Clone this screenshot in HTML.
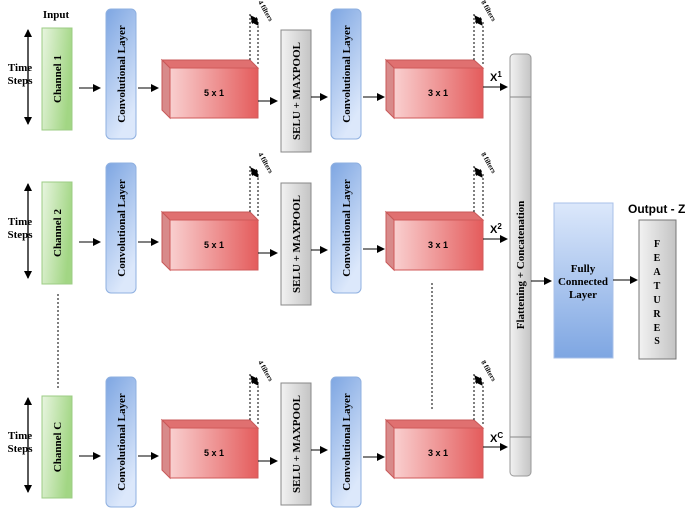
<!DOCTYPE html>
<html><head><meta charset="utf-8"><style>
html,body{margin:0;padding:0;background:#fff;}
svg{display:block;}
.s{font-family:"Liberation Serif",serif;font-weight:bold;}
.a{font-family:"Liberation Sans",sans-serif;font-weight:bold;}
</style></head><body>
<svg width="685" height="509" viewBox="0 0 685 509" xmlns="http://www.w3.org/2000/svg">
<defs>
<linearGradient id="g" x1="0" y1="0" x2="1" y2="0.3"><stop offset="0" stop-color="#e8f5e0"/><stop offset="1" stop-color="#a2d684"/></linearGradient>
<linearGradient id="b" x1="0" y1="0" x2="0.4" y2="1"><stop offset="0" stop-color="#7ea6e2"/><stop offset="1" stop-color="#dce8fb"/></linearGradient>
<linearGradient id="fc" x1="0" y1="0" x2="0" y2="1"><stop offset="0" stop-color="#dce8fb"/><stop offset="1" stop-color="#7ea6e2"/></linearGradient>
<linearGradient id="r" x1="0" y1="0" x2="1" y2="0"><stop offset="0" stop-color="#f9cfcf"/><stop offset="1" stop-color="#e45c5c"/></linearGradient>
<linearGradient id="gr" x1="0" y1="0" x2="1" y2="0"><stop offset="0" stop-color="#f2f2f2"/><stop offset="1" stop-color="#c4c4c4"/></linearGradient>
<marker id="m" markerWidth="8" markerHeight="8" refX="7" refY="4" orient="auto" markerUnits="userSpaceOnUse"><path d="M0,0 L8,4 L0,8 z" fill="#000"/></marker>
<marker id="ms" markerWidth="8" markerHeight="8" refX="1" refY="4" orient="auto" markerUnits="userSpaceOnUse"><path d="M8,0 L0,4 L8,8 z" fill="#000"/></marker>
<g id="L">
 <line x1="28" y1="30" x2="28" y2="124" stroke="#000" stroke-width="1.3" marker-start="url(#ms)" marker-end="url(#m)"/>
 <text class="s" font-size="11" x="20" y="71" text-anchor="middle">Time</text>
 <text class="s" font-size="11" x="20" y="84" text-anchor="middle">Steps</text>
 <rect x="42" y="28" width="30" height="102" fill="url(#g)" stroke="#9ccc84"/>
 <line x1="79" y1="88" x2="100" y2="88" stroke="#000" marker-end="url(#m)"/>
 <rect x="106" y="9" width="30" height="130" rx="5" fill="url(#b)" stroke="#8fb0e0"/>
 <text class="s" font-size="11" transform="translate(125,74) rotate(-90)" text-anchor="middle">Convolutional Layer</text>
 <line x1="138" y1="88" x2="158" y2="88" stroke="#000" marker-end="url(#m)"/>
 <rect x="331" y="9" width="30" height="130" rx="5" fill="url(#b)" stroke="#8fb0e0"/>
 <text class="s" font-size="11" transform="translate(350,74) rotate(-90)" text-anchor="middle">Convolutional Layer</text>
</g>
<g id="B">
 <path d="M162,60 L250,60 L258,68 L170,68 Z" fill="#e07070" stroke="#c85858"/>
 <path d="M162,60 L170,68 L170,118 L162,110 Z" fill="#d88a8a" stroke="#c85858"/>
 <rect x="170" y="68" width="88" height="50" fill="url(#r)" stroke="#d05a5a"/>
 <text class="a" font-size="9" x="214" y="96" text-anchor="middle">5 x 1</text>
 <line x1="250" y1="60" x2="250" y2="14" stroke="#000" stroke-dasharray="2,2"/>
 <line x1="258" y1="64" x2="258" y2="22" stroke="#000" stroke-dasharray="2,2"/>
 <line x1="251" y1="16" x2="258" y2="25" stroke="#000" marker-start="url(#ms)" marker-end="url(#m)"/>
 <text class="s" font-size="7" transform="translate(258,2) rotate(60)">4 filters</text>
 <line x1="258" y1="101" x2="277" y2="101" stroke="#000" marker-end="url(#m)"/>
 <line x1="363" y1="97" x2="384" y2="97" stroke="#000" marker-end="url(#m)"/>
 <path d="M386,60 L474,60 L483,68 L394,68 Z" fill="#e07070" stroke="#c85858"/>
 <path d="M386,60 L394,68 L394,118 L386,110 Z" fill="#d88a8a" stroke="#c85858"/>
 <rect x="394" y="68" width="89" height="50" fill="url(#r)" stroke="#d05a5a"/>
 <text class="a" font-size="9" x="438" y="96" text-anchor="middle">3 x 1</text>
 <line x1="474" y1="60" x2="474" y2="14" stroke="#000" stroke-dasharray="2,2"/>
 <line x1="483" y1="64" x2="483" y2="22" stroke="#000" stroke-dasharray="2,2"/>
 <line x1="475" y1="16" x2="482" y2="25" stroke="#000" marker-start="url(#ms)" marker-end="url(#m)"/>
 <text class="s" font-size="7" transform="translate(481,2) rotate(60)">8 filters</text>
 <line x1="483" y1="87" x2="507" y2="87" stroke="#000" marker-end="url(#m)"/>
</g>
<g id="S">
 <rect x="281" y="30" width="30" height="122" fill="url(#gr)" stroke="#888"/>
 <text class="s" font-size="11" transform="translate(300,91) rotate(-90)" text-anchor="middle">SELU + MAXPOOL</text>
 <line x1="311" y1="97" x2="327" y2="97" stroke="#000" marker-end="url(#m)"/>
</g>
</defs>
<use href="#L"/><use href="#B"/><use href="#S"/>
<use href="#L" transform="translate(0,154)"/>
<use href="#B" transform="translate(0,152)"/>
<use href="#S" transform="translate(0,153)"/>
<use href="#L" transform="translate(0,368)"/>
<use href="#B" transform="translate(0,360)"/>
<use href="#S" transform="translate(0,353)"/>
<text class="s" font-size="11" x="56" y="18" text-anchor="middle">Input</text>
<text class="s" font-size="11" transform="translate(61,79) rotate(-90)" text-anchor="middle">Channel 1</text>
<text class="s" font-size="11" transform="translate(61,233) rotate(-90)" text-anchor="middle">Channel 2</text>
<text class="s" font-size="11" transform="translate(61,447) rotate(-90)" text-anchor="middle">Channel C</text>
<line x1="58" y1="294" x2="58" y2="390" stroke="#000" stroke-dasharray="2,2"/>
<line x1="432" y1="283" x2="432" y2="410" stroke="#000" stroke-dasharray="2,2"/>
<text class="a" font-size="11" x="490" y="81" font-weight="normal">X<tspan font-size="8" dy="-4">1</tspan></text>
<text class="a" font-size="11" x="490" y="233" font-weight="normal">X<tspan font-size="8" dy="-4">2</tspan></text>
<text class="a" font-size="11" x="490" y="442" font-weight="normal">X<tspan font-size="8" dy="-4">C</tspan></text>
<rect x="510" y="54" width="21" height="422" rx="4" fill="url(#gr)" stroke="#999"/>
<line x1="510" y1="97" x2="531" y2="97" stroke="#888"/>
<line x1="510" y1="437" x2="531" y2="437" stroke="#888"/>
<text class="s" font-size="11" transform="translate(524,265) rotate(-90)" text-anchor="middle">Flattening + Concatenation</text>
<line x1="531" y1="281" x2="551" y2="281" stroke="#000" marker-end="url(#m)"/>
<rect x="554" y="203" width="59" height="155" fill="url(#fc)" stroke="#a8c0e8"/>
<text class="s" font-size="11" x="583" y="272" text-anchor="middle">Fully</text>
<text class="s" font-size="11" x="583" y="285" text-anchor="middle">Connected</text>
<text class="s" font-size="11" x="583" y="298" text-anchor="middle">Layer</text>
<line x1="613" y1="280" x2="637" y2="280" stroke="#000" marker-end="url(#m)"/>
<text class="a" font-size="12" x="628" y="213">Output - Z</text>
<rect x="639" y="220" width="37" height="139" fill="url(#gr)" stroke="#777"/>
<g class="s" font-size="10" text-anchor="middle">
<text x="657" y="247">F</text><text x="657" y="261">E</text><text x="657" y="275">A</text><text x="657" y="289">T</text><text x="657" y="303">U</text><text x="657" y="317">R</text><text x="657" y="331">E</text><text x="657" y="344">S</text>
</g>
</svg>
</body></html>
